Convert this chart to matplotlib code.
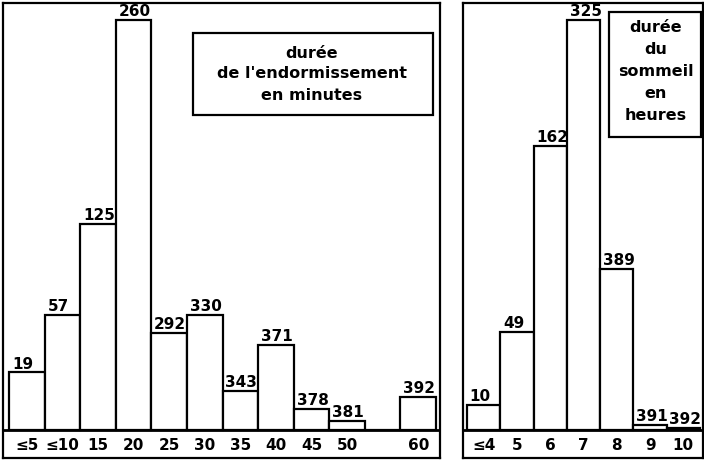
import matplotlib
matplotlib.use("Agg")
import matplotlib.pyplot as plt
from matplotlib.patches import Rectangle

plt.rcParams['font.family'] = ['DejaVu Sans']
plt.rcParams['font.weight'] = 'bold'

# sleep-onset time (minutes): labels, per-class counts, cumulative counts
onset_cats = ["≤5", "≤10", "15", "20", "25", "30", "35", "40", "45", "50", "55", "60"]
onset_counts = [19, 38, 68, 135, 32, 38, 13, 28, 7, 3, 0, 11]
onset_cumul = ["19", "57", "125", "260", "292", "330", "343", "371", "378", "381", "", "392"]
onset_ticks = ["≤5", "≤10", "15", "20", "25", "30", "35", "40", "45", "50", "", "60"]

# sleep duration (hours)
sleep_cats = ["≤4", "5", "6", "7", "8", "9", "10"]
sleep_counts = [10, 39, 113, 163, 64, 2, 1]
sleep_cumul = ["10", "49", "162", "325", "389", "391", "392"]

W, H = 704, 461
fig = plt.figure(figsize=(W / 100, H / 100), dpi=100)
fig.patch.set_facecolor("white")

ax1 = fig.add_axes([3 / W, 3 / H, 437 / W, 455 / H])
ax2 = fig.add_axes([463 / W, 3 / H, 240 / W, 455 / H])


def draw_panel(ax, counts, cumul, ticks, xlim, ylim):
    x = list(range(len(counts)))
    ax.bar(x, counts, width=1.0, color="white", edgecolor="black",
           linewidth=1.6, zorder=2)
    for xi, c, lab in zip(x, counts, cumul):
        if lab:
            ax.annotate(lab, (xi - 0.5, c), xytext=(2, 0.5),
                        textcoords="offset points", ha="left", va="bottom",
                        fontsize=11, fontweight="bold")
    tr = ax.get_xaxis_transform()
    for xi, t in zip(x, ticks):
        ax.text(xi, 0.027, t, transform=tr, ha="center", va="center",
                fontsize=11, fontweight="bold")
    ax.axhline(0, color="black", lw=2, zorder=3)
    ax.set_xlim(*xlim)
    ax.set_ylim(*ylim)
    ax.set_xticks([])
    ax.set_yticks([])
    for s in ax.spines.values():
        s.set_linewidth(1.6)


draw_panel(ax1, onset_counts, onset_cumul, onset_ticks, (-0.67, 11.61), (-9.2, 140.6))
draw_panel(ax2, sleep_counts, sleep_cumul, sleep_cats, (-0.62, 6.59), (-11.1, 169.8))

# legend boxes
ax1.add_patch(Rectangle((190 / 437, 1 - 112 / 455), 240 / 437, 82 / 455,
                        transform=ax1.transAxes, fill=False, lw=1.6, zorder=4))
for i, line in enumerate(["durée", "de l'endormissement", "en minutes"]):
    ax1.text(309 / 437, 1 - (50 + i * 21) / 455, line, transform=ax1.transAxes,
             ha="center", va="center", fontsize=11.5, fontweight="bold")

ax2.add_patch(Rectangle((146 / 240, 1 - 134 / 455), 92 / 240, 125 / 455,
                        transform=ax2.transAxes, fill=False, lw=1.6, zorder=4))
for i, line in enumerate(["durée", "du", "sommeil", "en", "heures"]):
    ax2.text(193 / 240, 1 - (25 + i * 22) / 455, line, transform=ax2.transAxes,
             ha="center", va="center", fontsize=11.5, fontweight="bold")

fig.savefig("out.png", dpi=100, facecolor="white")
